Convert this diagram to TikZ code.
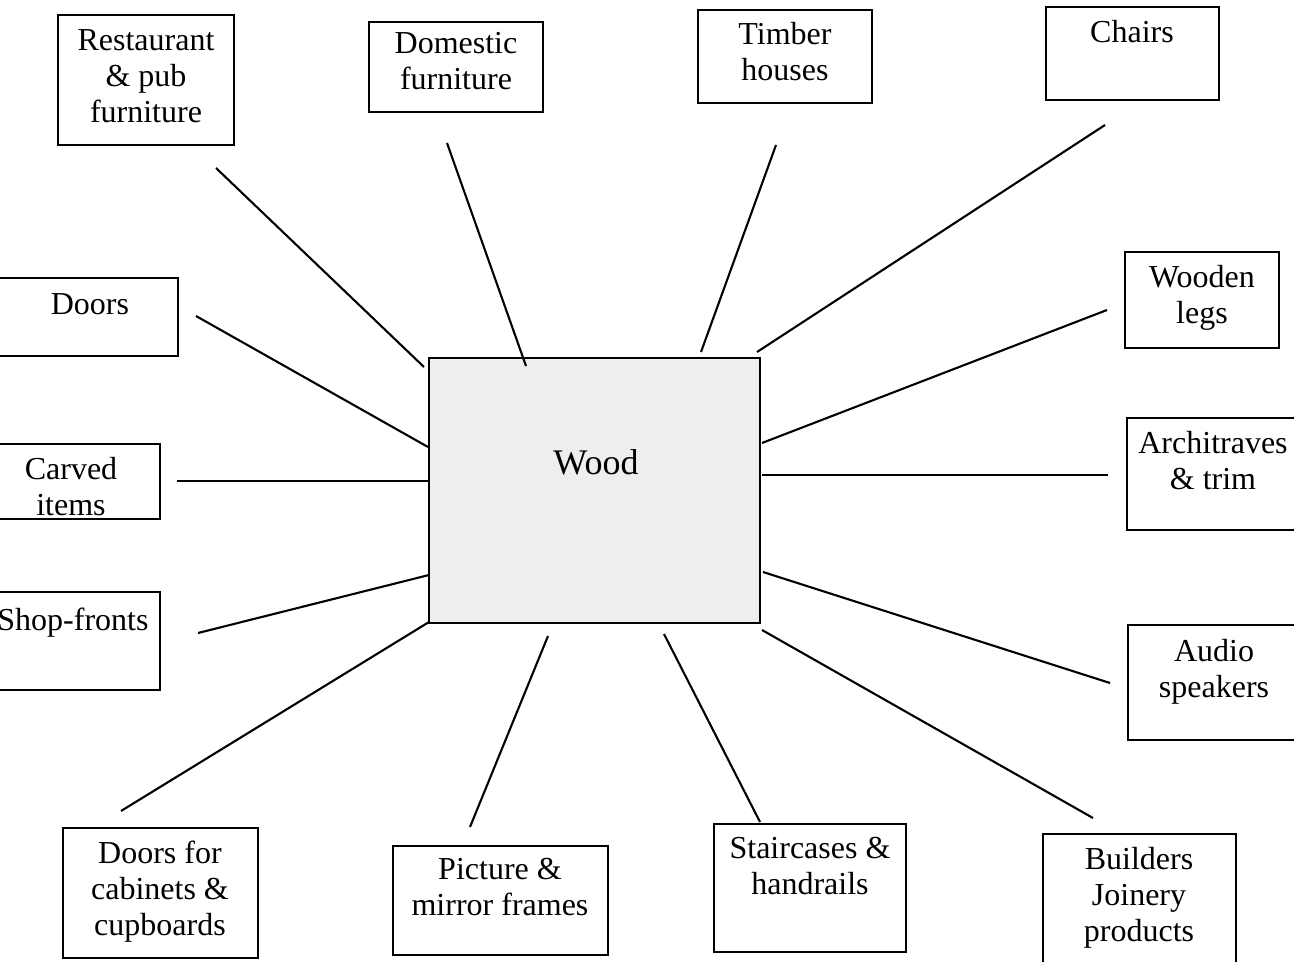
\documentclass[tikz,border=0pt]{standalone}
\usepackage{fontspec}
\setmainfont{Liberation Serif}
\usetikzlibrary{fit}
\begin{document}
\begin{tikzpicture}[x=0.5pt,y=-0.5pt,
  box/.style={draw, line width=1.1pt, rectangle, inner sep=0pt},
  hubbox/.style={box, fill=gray!13},
  txt/.style={align=center, inner sep=0pt, font=\fontsize{16}{18}\selectfont},
  hubtxt/.style={inner sep=0pt, font=\fontsize{18}{20}\selectfont},
  link/.style={line width=1.05pt}]
\useasboundingbox (0,0) rectangle (1294,962);
\clip (0,0) rectangle (1294,962);

% central box
\node[hubbox, fit={(429,358) (760,623)}] (wood) {};
\node[hubtxt] (wood-text) at (596,462) {Wood};

% surrounding boxes
\node[box, fit={(58,15) (234,145)}] (restaurant) {};
\node[txt] (restaurant-text) at (146,76) {Restaurant\\\& pub\\furniture};

\node[box, fit={(369,22) (543,112)}] (domestic) {};
\node[txt] (domestic-text) at (456,61) {Domestic\\furniture};

\node[box, fit={(698,10) (872,103)}] (timber) {};
\node[txt] (timber-text) at (785,52) {Timber\\houses};

\node[box, fit={(1046,7) (1219,100)}] (chairs) {};
\node[txt] (chairs-text) at (1132,32) {Chairs};

\node[box, fit={(-30,278) (178,356)}] (doors) {};
\node[txt] (doors-text) at (90,304) {Doors};

\node[box, fit={(-30,444) (160,519)}] (carved) {};
\node[txt] (carved-text) at (71,487) {Carved\\items};

\node[box, fit={(-30,592) (160,690)}] (shop) {};
\node[txt] (shop-text) at (73,623) {Shop-fronts};

\node[box, fit={(63,828) (258,958)}] (cabinets) {};
\node[txt] (cabinets-text) at (160,892) {Doors for\\cabinets \&\\cupboards};

\node[box, fit={(393,846) (608,955)}] (frames) {};
\node[txt] (frames-text) at (500,887) {Picture \&\\mirror frames};

\node[box, fit={(714,824) (906,952)}] (stairs) {};
\node[txt] (stairs-text) at (810,866) {Staircases \&\\handrails};

\node[box, fit={(1043,834) (1236,975)}] (joinery) {};
\node[txt] (joinery-text) at (1139,898) {Builders\\Joinery\\products};

\node[box, fit={(1125,252) (1279,348)}] (legs) {};
\node[txt] (legs-text) at (1202,298) {Wooden\\legs};

\node[box, fit={(1127,418) (1310,530)}] (trim) {};
\node[txt] (trim-text) at (1213,461) {Architraves\\\& trim};

\node[box, fit={(1128,625) (1310,740)}] (speakers) {};
\node[txt] (speakers-text) at (1214,672) {Audio\\speakers};

% connector ends
\coordinate (restaurant-end) at (216,168);
\coordinate (restaurant-hub) at (424,367);
\coordinate (domestic-end) at (447,143);
\coordinate (domestic-hub) at (526,366);
\coordinate (timber-end) at (776,145);
\coordinate (timber-hub) at (701,352);
\coordinate (chairs-end) at (1105,125);
\coordinate (chairs-hub) at (757,352);
\coordinate (doors-end) at (196,316);
\coordinate (doors-hub) at (428,447);
\coordinate (carved-end) at (177,481);
\coordinate (carved-hub) at (429,481);
\coordinate (shop-end) at (198,633);
\coordinate (shop-hub) at (429,575);
\coordinate (cabinets-end) at (121,811);
\coordinate (cabinets-hub) at (429,622);
\coordinate (frames-end) at (470,827);
\coordinate (frames-hub) at (548,636);
\coordinate (stairs-end) at (760,822);
\coordinate (stairs-hub) at (664,634);
\coordinate (joinery-end) at (1093,818);
\coordinate (joinery-hub) at (762,630);
\coordinate (speakers-end) at (1110,683);
\coordinate (speakers-hub) at (763,572);
\coordinate (trim-end) at (1108,475);
\coordinate (trim-hub) at (762,475);
\coordinate (legs-end) at (1107,310);
\coordinate (legs-hub) at (762,443);

% connectors
\foreach \n in {restaurant,domestic,timber,chairs,doors,carved,shop,cabinets,frames,stairs,joinery,speakers,trim,legs}
  \draw[link] (\n-end) -- (\n-hub);
\end{tikzpicture}
\end{document}
